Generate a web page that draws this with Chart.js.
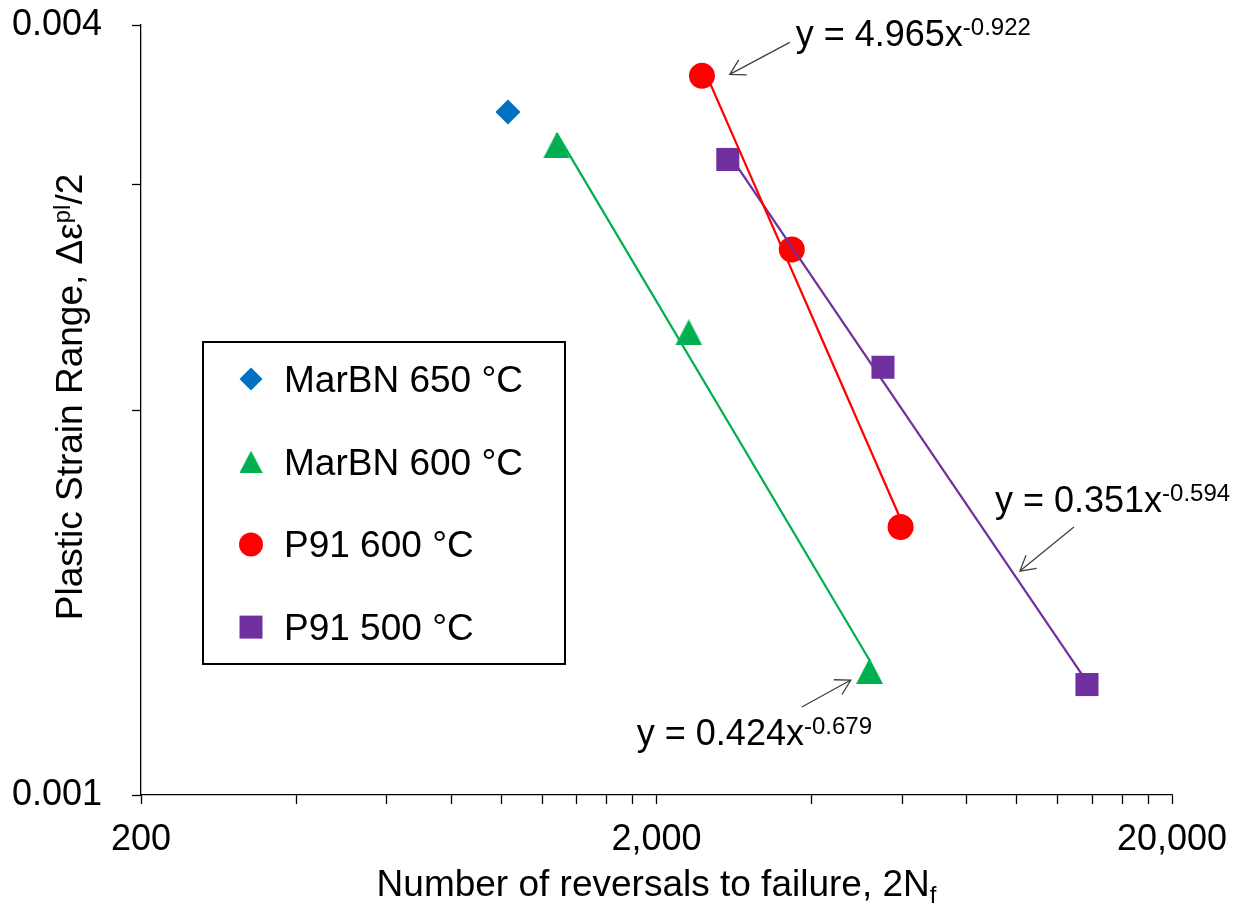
<!DOCTYPE html>
<html>
<head>
<meta charset="utf-8">
<title>Plastic strain range vs reversals to failure</title>
<script src="https://cdn.jsdelivr.net/npm/chart.js@4.4.1/dist/chart.umd.min.js"></script>
<style>
  html, body { margin: 0; padding: 0; background: #fff; }
</style>
</head>
<body>
<canvas id="fatigue" width="1248" height="910"></canvas>
<script>
// reversals to failure (2Nf) and plastic strain amplitude per test
var marbn650X = [1030];
var marbn650Y = [0.00342];
var marbn600X = [1280, 2310, 5180];
var marbn600Y = [0.00322, 0.00230, 0.00125];
var p91at600X = [2450, 3660, 5950];
var p91at600Y = [0.00365, 0.00267, 0.00162];
var p91at500X = [2750, 5500, 13680];
var p91at500Y = [0.00314, 0.00216, 0.00122];

// power-law trend lines y = a * x^b (MarBN 600, P91 600, P91 500)
var fitA = [0.424, 4.965, 0.351];
var fitB = [-0.679, -0.922, -0.594];
var fitText = ['y = 0.424x', 'y = 4.965x', 'y = 0.351x'];
var fitExpText = ['-0.679', '-0.922', '-0.594'];

var xTickValues = [200, 400, 600, 800, 1000, 1200, 1400, 1600, 1800,
                   2000, 4000, 6000, 8000, 10000, 12000, 14000, 16000, 18000, 20000];
var xTickLabels = ['200', '', '', '', '', '', '', '', '',
                   '2,000', '', '', '', '', '', '', '', '', '20,000'];
var yTickValues = [0.001, 0.002, 0.003, 0.004];
var yTickLabels = ['0.001', '', '', '0.004'];

var FONT = '"Liberation Sans", Arial, sans-serif';
var BLUE = '#0070C0', GREEN = '#00B050', RED = '#FF0000', PURPLE = '#7030A0';

function points(xs, ys) {
    return xs.map(function (x, i) { return {x: x, y: ys[i]}; });
}

// trend line spans the x range of its own series
function fitLine(i, xs) {
    var lo = Math.min.apply(null, xs), hi = Math.max.apply(null, xs);
    return [lo, hi].map(function (x) {
        return {x: x, y: fitA[i] * Math.pow(x, fitB[i])};
    });
}

// Excel-like triangle, centred on its bounding box
function triangleMarker(color, w, h) {
    var c = document.createElement('canvas');
    c.width = w;
    c.height = h;
    var g = c.getContext('2d');
    g.fillStyle = color;
    g.beginPath();
    g.moveTo(w / 2, 0);
    g.lineTo(w, h);
    g.lineTo(0, h);
    g.closePath();
    g.fill();
    return c;
}
var triangleImg = triangleMarker(GREEN, 27, 26);

function drawRich(ctx, parts, x, y) {
    parts.forEach(function (p) {
        ctx.font = p.size + 'px ' + FONT;
        ctx.fillText(p.text, x, y + (p.shift || 0));
        x += ctx.measureText(p.text).width;
    });
}
function richWidth(ctx, parts) {
    var w = 0;
    parts.forEach(function (p) {
        ctx.font = p.size + 'px ' + FONT;
        w += ctx.measureText(p.text).width;
    });
    return w;
}

function legendMarker(ctx, kind, color, x, y) {
    ctx.fillStyle = color;
    ctx.beginPath();
    if (kind === 'diamond') {
        ctx.moveTo(x, y - 11.5); ctx.lineTo(x + 11.5, y); ctx.lineTo(x, y + 11.5); ctx.lineTo(x - 11.5, y);
        ctx.closePath(); ctx.fill();
    } else if (kind === 'triangle') {
        ctx.drawImage(triangleImg, x - 11.5, y - 11, 23, 22);
    } else if (kind === 'circle') {
        ctx.arc(x, y, 12, 0, Math.PI * 2); ctx.fill();
    } else {
        ctx.fillRect(x - 11.5, y - 11.5, 23, 23);
    }
}

var legendItems = [
    {label: 'MarBN 650 °C', kind: 'diamond', color: BLUE},
    {label: 'MarBN 600 °C', kind: 'triangle', color: GREEN},
    {label: 'P91 600 °C', kind: 'circle', color: RED},
    {label: 'P91 500 °C', kind: 'square', color: PURPLE}
];

// equation callouts: arrow head in data space, tail and text offsets in px
var notes = [
    {fit: 1, at: [2774, 0.00366], tail: [60, -32], text: [66, -28]},
    {fit: 2, at: [10140, 0.0014965], tail: [54, -44], text: [-25, -59]},
    {fit: 0, at: [4764, 0.00123], tail: [-49, 27], text: [-214, 65]}
];

var decorations = {
    id: 'decorations',
    afterDraw: function (chart) {
        var ctx = chart.ctx;
        var xs = chart.scales.x, ys = chart.scales.y;
        var area = chart.chartArea;
        ctx.save();
        ctx.fillStyle = '#000';
        ctx.textBaseline = 'alphabetic';
        ctx.textAlign = 'left';

        // x axis title with subscript
        var xTitle = [{text: 'Number of reversals to failure, 2N', size: 37},
                      {text: 'f', size: 24, shift: 7}];
        var cx = (area.left + area.right) / 2;
        drawRich(ctx, xTitle, cx - richWidth(ctx, xTitle) / 2, 896);

        // y axis title with superscript
        var yTitle = [{text: 'Plastic Strain Range, \u0394\u03b5', size: 37},
                      {text: 'pl', size: 24, shift: -12},
                      {text: '/2', size: 37}];
        ctx.save();
        ctx.translate(82, 397);
        ctx.rotate(-Math.PI / 2);
        drawRich(ctx, yTitle, -richWidth(ctx, yTitle) / 2, 0);
        ctx.restore();

        // legend box
        ctx.lineWidth = 2;
        ctx.strokeStyle = '#000';
        ctx.strokeRect(203, 342, 362, 322);
        legendItems.forEach(function (item, i) {
            var rowY = 379 + i * 82.7;
            legendMarker(ctx, item.kind, item.color, 251, rowY);
            ctx.fillStyle = '#000';
            ctx.font = '37px ' + FONT;
            ctx.fillText(item.label, 284, rowY + 13);
        });

        // equation callouts
        notes.forEach(function (n) {
            var hx = xs.getPixelForValue(n.at[0]);
            var hy = ys.getPixelForValue(n.at[1]);
            var tx = hx + n.tail[0], ty = hy + n.tail[1];
            var ang = Math.atan2(ty - hy, tx - hx);
            ctx.strokeStyle = '#404040';
            ctx.lineWidth = 1.3;
            ctx.beginPath();
            ctx.moveTo(tx, ty);
            ctx.lineTo(hx, hy);
            ctx.moveTo(hx + 17 * Math.cos(ang - 0.52), hy + 17 * Math.sin(ang - 0.52));
            ctx.lineTo(hx, hy);
            ctx.lineTo(hx + 17 * Math.cos(ang + 0.52), hy + 17 * Math.sin(ang + 0.52));
            ctx.stroke();
            ctx.fillStyle = '#000';
            drawRich(ctx, [{text: fitText[n.fit], size: 36},
                           {text: fitExpText[n.fit], size: 24, shift: -11}],
                     hx + n.text[0], hy + n.text[1]);
        });
        ctx.restore();
    }
};

var axisFont = {family: FONT, size: 36};

new Chart(document.getElementById('fatigue'), {
    type: 'scatter',
    data: {
        datasets: [
            {label: 'MarBN 650 °C', data: points(marbn650X, marbn650Y),
             pointStyle: 'rectRot', pointRadius: 12.5, borderWidth: 0,
             backgroundColor: BLUE, borderColor: BLUE, order: 2},
            {label: 'MarBN 600 °C', data: points(marbn600X, marbn600Y),
             pointStyle: triangleImg, pointRadius: 13, borderWidth: 0,
             backgroundColor: GREEN, borderColor: GREEN, order: 2},
            {label: 'P91 600 °C', data: points(p91at600X, p91at600Y),
             pointStyle: 'circle', pointRadius: 13, borderWidth: 0,
             backgroundColor: RED, borderColor: RED, order: 2},
            {label: 'P91 500 °C', data: points(p91at500X, p91at500Y),
             pointStyle: 'rect', pointRadius: 16.3, borderWidth: 0,
             backgroundColor: PURPLE, borderColor: PURPLE, order: 2},
            // power-law trend lines, drawn above the markers
            {label: 'fit MarBN 600', data: fitLine(0, marbn600X), showLine: true,
             borderColor: GREEN, borderWidth: 2.25, pointRadius: 0, order: 1},
            {label: 'fit P91 600', data: fitLine(1, p91at600X), showLine: true,
             borderColor: RED, borderWidth: 2.25, pointRadius: 0, order: 1},
            {label: 'fit P91 500', data: fitLine(2, p91at500X), showLine: true,
             borderColor: PURPLE, borderWidth: 2.25, pointRadius: 0, order: 1}
        ]
    },
    options: {
        responsive: false,
        animation: false,
        events: [],
        layout: {padding: {top: 25, right: 76, bottom: 0, left: 0}},
        plugins: {
            legend: {display: false},
            tooltip: {enabled: false}
        },
        scales: {
            x: {
                type: 'logarithmic',
                min: 200,
                max: 20000,
                afterBuildTicks: function (scale) {
                    scale.ticks = xTickValues.map(function (v) { return {value: v}; });
                },
                afterFit: function (scale) {
                    scale.height = 115;
                    scale.paddingLeft = 0;
                    scale.paddingRight = 0;
                },
                grid: {drawOnChartArea: false, drawTicks: true, tickLength: 9,
                       tickColor: '#000', tickWidth: 1.3},
                border: {display: true, color: '#000', width: 1.3},
                ticks: {
                    autoSkip: false, maxRotation: 0, padding: 14, color: '#000', font: axisFont,
                    callback: function (value, i) { return xTickLabels[i]; }
                }
            },
            y: {
                type: 'logarithmic',
                min: 0.001,
                max: 0.004,
                afterBuildTicks: function (scale) {
                    scale.ticks = yTickValues.map(function (v) { return {value: v}; });
                },
                afterFit: function (scale) {
                    scale.width = 141;
                    scale.paddingTop = 0;
                    scale.paddingBottom = 0;
                },
                grid: {drawOnChartArea: false, drawTicks: true, tickLength: 9,
                       tickColor: '#000', tickWidth: 1.3},
                border: {display: true, color: '#000', width: 1.3},
                ticks: {
                    autoSkip: false, padding: 30, color: '#000', font: axisFont,
                    callback: function (value, i) { return yTickLabels[i]; }
                }
            }
        }
    },
    plugins: [decorations]
});
</script>
</body>
</html>
